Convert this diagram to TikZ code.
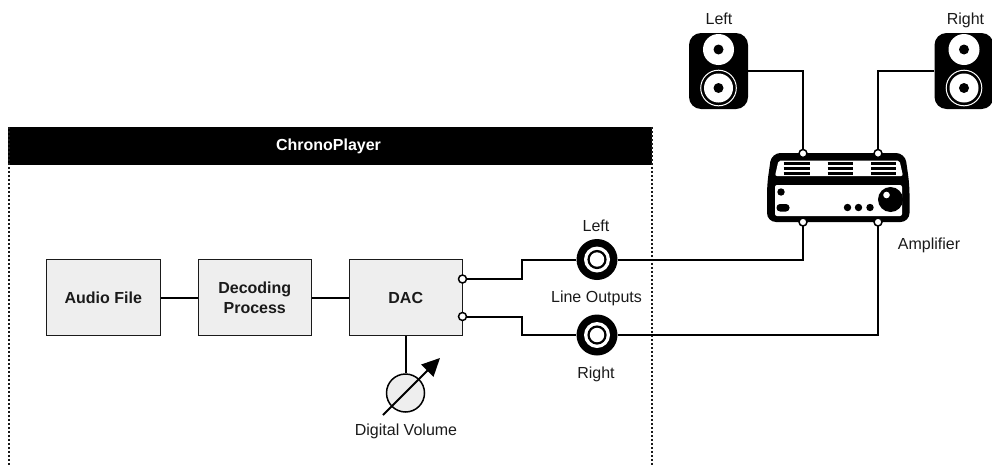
\documentclass[tikz,border=0pt]{standalone}
\usepackage{fontspec}
\usetikzlibrary{arrows.meta}
\setmainfont{Liberation Sans}
\definecolor{ink}{HTML}{1A1A1A}
\definecolor{boxfill}{HTML}{EEEEEE}
\tikzset{
  wire/.style={draw=black,line width=2pt},
  blockbox/.style={draw=ink,line width=1pt,fill=boxfill,minimum width=113.5pt,minimum height=76pt,inner sep=0pt,align=center,font=\fontsize{16}{20}\selectfont\bfseries,text=ink},
  lbl/.style={font=\fontsize{16}{19}\selectfont,text=ink,inner sep=0pt},
  port/.style={circle,draw=black,line width=1.5pt,fill=white,minimum size=8pt,inner sep=0pt},
  jack/.style={circle,fill=black,minimum size=41pt,inner sep=0pt},
  vent/.style={draw=black,line width=2.4pt},
  frameline/.style={draw=ink,line width=1.1pt,dash pattern=on 2pt off 2pt},
}
\newcommand{\speaker}[2]{%
  \node[draw=none,fill=black,rounded corners=12pt,minimum width=59pt,minimum height=76pt,inner sep=0pt] (#2) at (#1,71) {};
  \fill[white] (#1,49.5) circle (15.5);
  \fill[black] (#1,49.5) circle (5);
  \draw[white,line width=1pt] (#1,88) circle (17.8);
  \fill[white] (#1,88) circle (14.5);
  \fill[black] (#1,88) circle (5);
}
\newcommand{\jackicon}[2]{%
  \node[jack] (#2) at (#1) {};
  \fill[white] (#1) circle (13);
  \fill[black] (#1) circle (9.6);
  \fill[white] (#1) circle (7.2);
}
\begin{document}
\begin{tikzpicture}[x=1pt,y=-1pt]
\useasboundingbox (0,0) rectangle (992,466);
% frame
\node[fill=black,minimum width=643.5pt,minimum height=38pt,inner sep=0pt,text=white,font=\fontsize{16}{20}\selectfont\bfseries] (head) at (330,146) {\hspace{-3pt}ChronoPlayer};
\coordinate (fl) at (9,466);
\coordinate (fr) at (652,466);
\draw[frameline] (head.north west -| fl) -- (fl);
\draw[frameline] (head.north east -| fr) -- (fr);
% blocks
\node[blockbox] (audio) at (103.25,297.5) {Audio File};
\node[blockbox] (decode) at (254.75,297.5) {Decoding\\Process};
\node[blockbox] (dac) at (405.75,297.5) {DAC};
\draw[wire] (audio) -- (decode);
\draw[wire] (decode) -- (dac);
% volume
\node[circle,draw=black,line width=1.5pt,fill=boxfill,minimum size=38pt,inner sep=0pt] (vol) at (405.5,393) {};
\draw[wire] (dac.south -| vol) -- (vol.north);
\coordinate (va) at (383,415);
\coordinate (vb) at (440,358);
\draw[line width=2pt,-{Triangle[length=18pt,width=17pt]}] (va) -- (vb);
\node[lbl] (vollbl) at (406,431) {Digital Volume};
% jacks
\jackicon{597,259.5}{jl}
\jackicon{597,335}{jr}
\node[lbl] (ll) at (596,226) {Left};
\node[lbl] (lo) at (596.5,298) {Line Outputs};
\node[lbl] (lr) at (596,374) {Right};
% speakers
\speaker{718.5}{sl}
\speaker{964}{sr}
\node[lbl] (sll) at (719,19) {Left};
\node[lbl] (srl) at (965.5,20) {Right};
% amplifier
\coordinate (atl) at (803,153.5);
\coordinate (atr) at (878,153.5);
\coordinate (abl) at (803,222);
\coordinate (abr) at (878,222);
\draw[wire] (sl.east |- 0,71) -| (atl);
\draw[wire] (sr.west |- 0,71) -| (atr);
\draw[wire] (jl.east) -| (abl);
\draw[wire] (jr.east) -| (abr);
\fill[black,rounded corners=9pt] (767,222) -- (767,185) -- (771.5,153) -- (905,153) -- (909.5,185) -- (909.5,222) -- cycle;
\fill[white,rounded corners=2pt] (778.5,160.5) -- (775,176) -- (903,176) -- (899.5,160.5) -- cycle;
\fill[white,rounded corners=2pt] (775,185) rectangle (902,216);
\foreach \xa/\xb in {783.5/809.5,827.5/852.5,871/896}{
  \foreach \yy in {163.5,168.5,173.5}{
    \draw[vent] (\xa,\yy) -- (\xb,\yy);
  }
}
\fill[black] (890.5,199.5) circle (12.5);
\fill[white] (886.5,195) circle (3.3);
\foreach \xx in {847.5,858.5,870}{\fill[black] (\xx,207.5) circle (3.7);}
\fill[black] (781,192) circle (3.7);
\fill[black,rounded corners=3.5pt] (776.5,204) rectangle (789.5,211.5);
\node[port] (p1) at (atl) {};
\node[port] (p2) at (atr) {};
\node[port] (p3) at (abl) {};
\node[port] (p4) at (abr) {};
\node[lbl] (amp) at (929,245) {Amplifier};
% DAC outputs
\coordinate (o1) at (462.5,279);
\coordinate (o2) at (462.5,316.5);
\draw[wire] (o1) -- (522,279) |- (jl.west);
\draw[wire] (o2) -- (522,316.5) |- (jr.west);
\node[port] (d1) at (o1) {};
\node[port] (d2) at (o2) {};
\end{tikzpicture}
\end{document}
